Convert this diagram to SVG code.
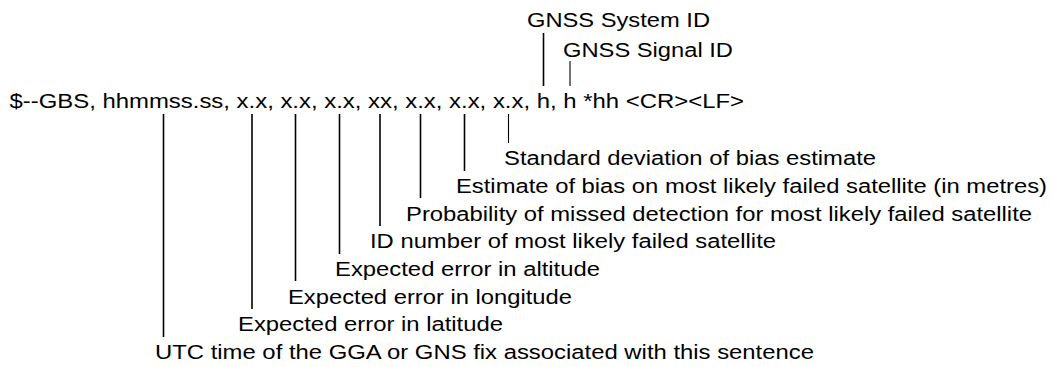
<svg xmlns="http://www.w3.org/2000/svg" width="1052" height="367" viewBox="0 0 1052 367">
<style>
.t{font-family:"Liberation Sans",Arial,Helvetica,sans-serif;font-size:20px;fill:#000}
.c{stroke:#000;stroke-width:1.6;fill:none}
.thin{stroke-width:1.1}
</style>
<rect width="1052" height="367" fill="#fff"/>
<g id="sentence"><text class="t" x="9.5" y="108" textLength="734.5" lengthAdjust="spacingAndGlyphs">$--GBS, hhmmss.ss, x.x, x.x, x.x, xx, x.x, x.x, x.x, h, h *hh &lt;CR&gt;&lt;LF&gt;</text></g>
<g id="system-id"><text class="t" x="527" y="27" textLength="183" lengthAdjust="spacingAndGlyphs">GNSS System ID</text></g>
<g id="signal-id"><text class="t" x="563" y="57" textLength="170" lengthAdjust="spacingAndGlyphs">GNSS Signal ID</text></g>
<g id="std-dev"><text class="t" x="504" y="165" textLength="372" lengthAdjust="spacingAndGlyphs">Standard deviation of bias estimate</text></g>
<g id="bias"><text class="t" x="456" y="193" textLength="591" lengthAdjust="spacingAndGlyphs">Estimate of bias on most likely failed satellite (in metres)</text></g>
<g id="probability"><text class="t" x="406" y="220.5" textLength="626" lengthAdjust="spacingAndGlyphs">Probability of missed detection for most likely failed satellite</text></g>
<g id="id-number"><text class="t" x="370" y="248" textLength="406" lengthAdjust="spacingAndGlyphs">ID number of most likely failed satellite</text></g>
<g id="altitude"><text class="t" x="335" y="276" textLength="265" lengthAdjust="spacingAndGlyphs">Expected error in altitude</text></g>
<g id="longitude"><text class="t" x="288" y="303.5" textLength="284" lengthAdjust="spacingAndGlyphs">Expected error in longitude</text></g>
<g id="latitude"><text class="t" x="238" y="331" textLength="265" lengthAdjust="spacingAndGlyphs">Expected error in latitude</text></g>
<g id="utc"><text class="t" x="155" y="359" textLength="659" lengthAdjust="spacingAndGlyphs">UTC time of the GGA or GNS fix associated with this sentence</text></g>
<g id="connectors" class="c">
<line x1="543.5" y1="33" x2="543.5" y2="86"/>
<line class="thin" x1="570" y1="61" x2="570" y2="86"/>
<line class="thin" x1="508.5" y1="114" x2="508.5" y2="143"/>
<line x1="464.5" y1="114" x2="464.5" y2="171"/>
<line x1="420.5" y1="114" x2="420.5" y2="198"/>
<line x1="380" y1="114" x2="380" y2="226"/>
<line x1="339.5" y1="114" x2="339.5" y2="254"/>
<line x1="295.5" y1="114" x2="295.5" y2="281"/>
<line x1="252" y1="114" x2="252" y2="309"/>
<line x1="163.5" y1="114" x2="163.5" y2="337"/>
</g>
</svg>
